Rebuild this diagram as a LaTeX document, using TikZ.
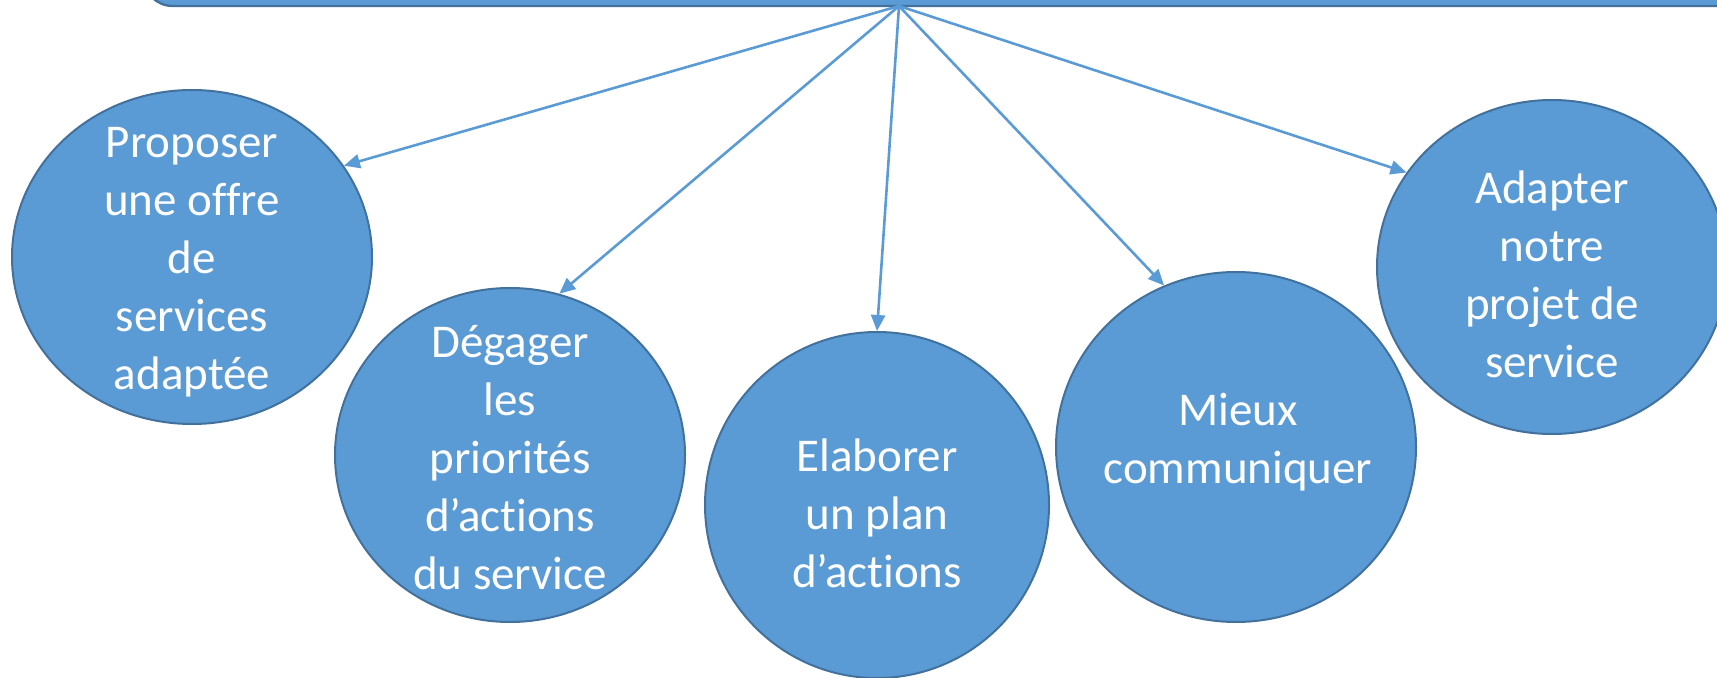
\documentclass[tikz,border=0pt]{standalone}
\usepackage{fontspec}
\setmainfont{Carlito}[Ligatures={NoCommon}]
\usepackage{xcolor}
\usetikzlibrary{shapes.geometric, arrows.meta}
\definecolor{ballblue}{HTML}{5B9BD5}
\definecolor{ballline}{HTML}{41719C}

\begin{document}
\begin{tikzpicture}[x=0.5pt, y=-0.5pt,
    ball/.style={draw=ballline, fill=ballblue, ellipse, line width=1pt, inner sep=0pt},
    balltext/.style={text=white, align=center, inner sep=0pt, font=\fontsize{23.5}{29}\selectfont},
    link/.style={draw=ballblue, line width=1.3pt, -{Triangle[length=8pt,width=7pt]}}]
    \useasboundingbox (0,0) rectangle (1717,678);
    \clip (0,0) rectangle (1717,678);

    \node[draw=ballline, fill=ballblue, line width=1.2pt, rounded corners=15pt,
          minimum width=828.5pt, minimum height=103pt] (goal) at (971.5,-97) {};
    \coordinate (hub) at (899,6);

    \node[ball, minimum width=180pt, minimum height=167pt] (offre) at (192,257) {};
    \node[ball, minimum width=175pt, minimum height=167pt] (prio) at (510,455) {};
    \node[ball, minimum width=172pt, minimum height=173pt] (plan) at (877,505) {};
    \node[ball, minimum width=180pt, minimum height=175pt] (comm) at (1236,447) {};
    \node[ball, minimum width=175pt, minimum height=167pt] (projet) at (1552,267) {};

    \node[balltext] (offre-t) at (192,262) {Proposer\\une offre\\de\\services\\adaptée};
    \node[balltext] (prio-t) at (510,458) {Dégager\\les\\priorités\\d’actions\\du service};
    \node[balltext] (plan-t) at (877,513) {Elaborer\\un plan\\d’actions};
    \node[balltext] (comm-t) at (1238,442) {Mieux\\communiquer};
    \node[balltext] (projet-t) at (1552,274) {Adapter\\notre\\projet de\\service};

    \draw[link] (hub) -- (offre.31);
    \draw[link] (hub) -- (prio.73);
    \draw[link] (hub) -- (plan.90);
    \draw[link] (hub) -- (comm.114);
    \draw[link] (hub) -- (projet.147);
\end{tikzpicture}
\end{document}
